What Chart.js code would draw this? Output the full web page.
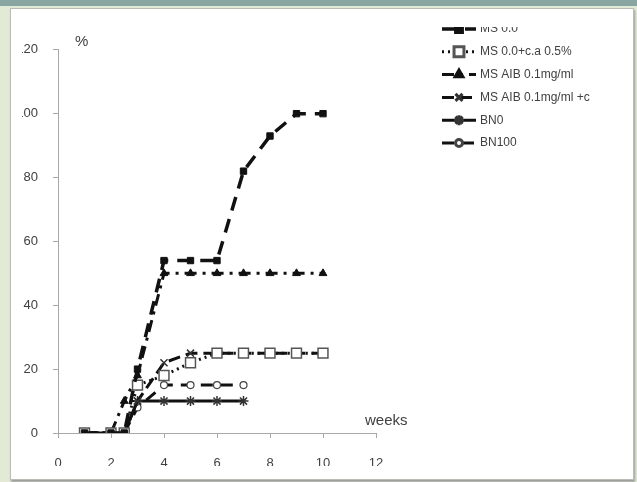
<!DOCTYPE html>
<html>
<head>
<meta charset="utf-8">
<script src="https://cdn.jsdelivr.net/npm/chart.js@4/dist/chart.umd.min.js"></script>
<style>
  html, body { margin: 0; padding: 0; }
  body { width: 637px; height: 482px; background: #e2ead6; position: relative; overflow: hidden; }
  .band { position: absolute; left: 0; top: 0; width: 637px; height: 6px; background: #88a5a2; }
  .panel { position: absolute; left: 10px; top: 8px; width: 622px; height: 470px; background: #fff;
           border: 1px solid #b9bdb5; box-shadow: 1px 2px 2px #9a9a9a; }
  .plot { position: absolute; left: 22px; top: 27px; width: 568px; height: 439px; overflow: hidden; }
</style>
</head>
<body>
<div class="band"></div>
<div class="panel"></div>
<div class="plot"><canvas id="chart" width="568" height="460"></canvas></div>
<script>
const weeks = [1, 2, 2.5, 3, 4, 5, 6, 7, 8, 9, 10];
const msBase = [0, 0, 0, 20, 54, 54, 54, 82, 93, 100, 100];
const msCa = [0, 0, 0, 15, 18, 22, 25, 25, 25, 25, 25];
const msAib = [0, 0, 10, 18, 50, 50, 50, 50, 50, 50, 50];
const msAibCa = [0, 0, 0, 10, 22, 25, 25, 25, 25, 25, 25];
const bn0 = [0, 0, 0, 10, 10, 10, 10, 10, null, null, null];
const bn100 = [0, 0, 0, 8, 15, 15, 15, 15, null, null, null];
const seriesNames = ['MS 0.0', 'MS 0.0+c.a 0.5%', 'MS AIB 0.1mg/ml', 'MS AIB 0.1mg/ml +c.a0.5%', 'BN0', 'BN100'];
const yTicks = [0, 20, 40, 60, 80, 100, 120];
const xTicks = [0, 2, 4, 6, 8, 10, 12];

const font = "'Liberation Sans Narrow', 'Liberation Sans', Arial, sans-serif";
const ink = '#111';
const textGrey = '#404040';
const axisGrey = '#a8a8a8';

const toPoints = values => weeks.map((w, i) => ({ x: w, y: values[i] })).filter(p => p.y !== null);

const styles = [
  { dash: [14, 9], width: 3.5, pointStyle: 'rect', radius: 4.5, fill: ink, border: ink, bw: 1 },
  { dash: [2, 4], width: 3, pointStyle: 'rect', radius: 7, fill: '#fff', border: '#555', bw: 1.5 },
  { dash: [12, 6, 3, 6], width: 3, pointStyle: 'triangle', radius: 4.5, fill: ink, border: ink, bw: 1 },
  { dash: [12, 6], width: 3, pointStyle: 'crossRot', radius: 5, fill: ink, border: '#333', bw: 1.5 },
  { dash: [], width: 3, pointStyle: 'star', radius: 5, fill: ink, border: '#333', bw: 1.5 },
  { dash: [12, 8], width: 3, pointStyle: 'circle', radius: 3.5, fill: '#fff', border: '#444', bw: 1.2 },
];
const allValues = [msBase, msCa, msAib, msAibCa, bn0, bn100];

const datasets = allValues.map((values, i) => ({
  label: seriesNames[i],
  data: toPoints(values),
  borderColor: ink,
  borderWidth: styles[i].width,
  borderDash: styles[i].dash,
  pointStyle: styles[i].pointStyle,
  pointRadius: styles[i].radius,
  pointBackgroundColor: styles[i].fill,
  pointBorderColor: styles[i].border,
  pointBorderWidth: styles[i].bw,
  tension: 0,
  fill: false,
}));

// legend + axis captions drawn on the canvas
const extras = {
  id: 'extras',
  afterDraw(chart) {
    const ctx = chart.ctx;
    ctx.save();
    ctx.fillStyle = textGrey;
    ctx.textBaseline = 'middle';
    ctx.font = '15px ' + font;
    ctx.fillText('%', 53, 15);
    ctx.fillText('weeks', 343, 394);

    ctx.font = '12px ' + font;
    datasets.forEach((ds, i) => {
      const y = 2 + i * 22.8;
      ctx.strokeStyle = ink;
      ctx.lineWidth = ds.borderWidth;
      ctx.setLineDash(ds.borderDash);
      ctx.beginPath();
      ctx.moveTo(420, y);
      ctx.lineTo(454, y);
      ctx.stroke();
      ctx.setLineDash([]);
      ctx.fillStyle = ds.pointBackgroundColor;
      ctx.strokeStyle = ds.pointBorderColor;
      Chart.helpers.drawPoint(ctx, {
        pointStyle: ds.pointStyle, radius: ds.pointRadius, rotation: 0, borderWidth: ds.pointBorderWidth,
      }, 437, y);
      ctx.fillStyle = textGrey;
      ctx.fillText(ds.label, 458, y);
    });
    ctx.restore();
  },
};

new Chart(document.getElementById('chart'), {
  type: 'line',
  data: { datasets },
  options: {
    responsive: false,
    animation: false,
    layout: { padding: { top: 8, right: 214, bottom: 0, left: 0 } },
    plugins: { legend: { display: false }, tooltip: { enabled: false } },
    scales: {
      x: {
        type: 'linear',
        min: 0,
        max: 12,
        afterBuildTicks: scale => { scale.ticks = xTicks.map(v => ({ value: v })); },
        afterFit: scale => { scale.height = 54; },
        grid: { drawOnChartArea: false, tickLength: 5, color: axisGrey },
        border: { color: axisGrey },
        ticks: { padding: 18, color: textGrey, font: { family: font, size: 13 } },
      },
      y: {
        min: 0,
        max: 120,
        afterBuildTicks: scale => { scale.ticks = yTicks.map(v => ({ value: v })); },
        afterFit: scale => { scale.width = 36; },
        grid: { drawOnChartArea: false, tickLength: 5, color: axisGrey },
        border: { color: axisGrey },
        ticks: { padding: 15, color: textGrey, font: { family: font, size: 13 } },
      },
    },
  },
  plugins: [extras],
});
</script>
</body>
</html>
